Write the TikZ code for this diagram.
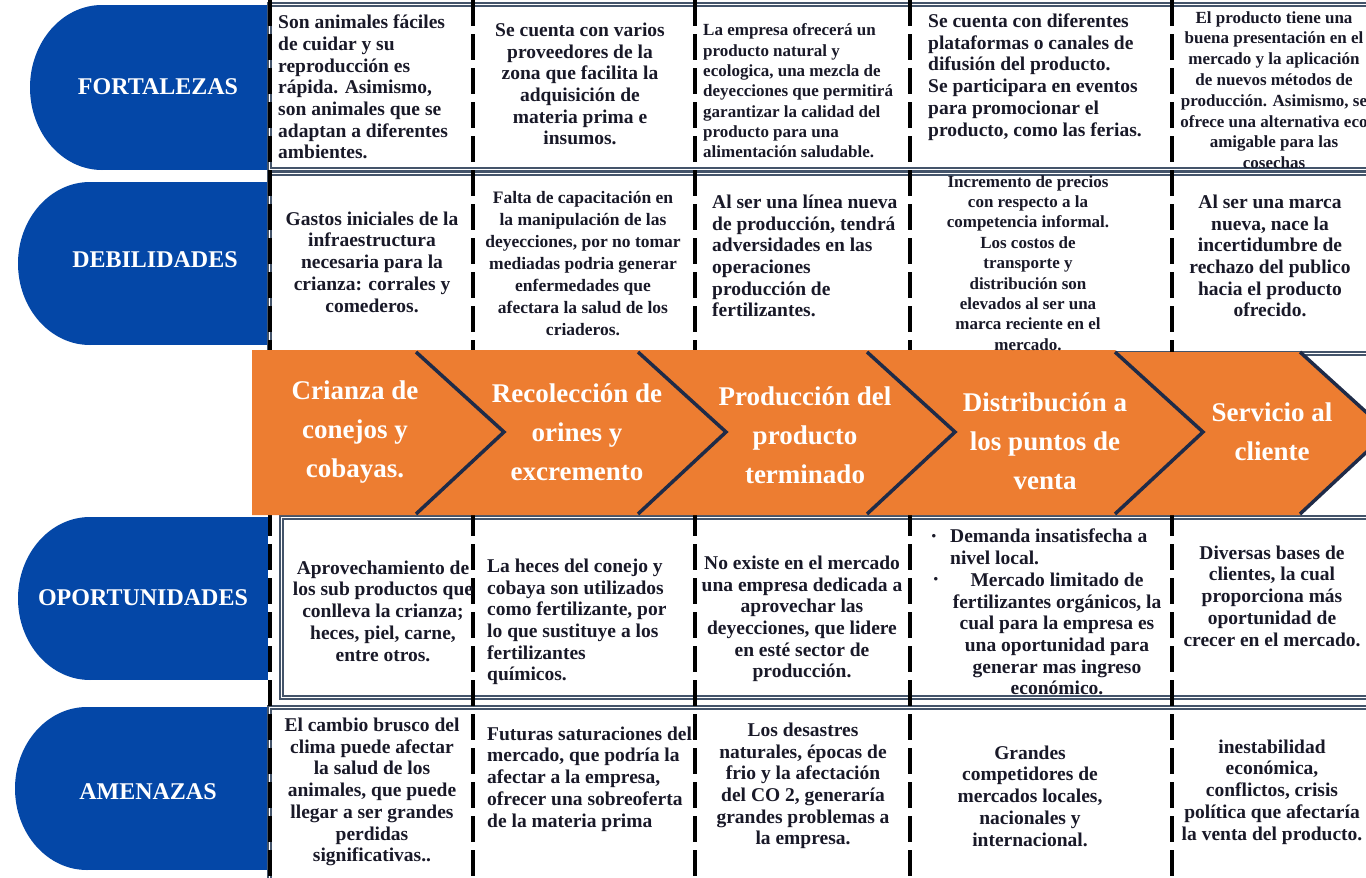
\documentclass[tikz,border=0pt]{standalone}
\usepackage{fontspec}
\setmainfont{Liberation Serif}
\definecolor{tabblue}{RGB}{4,71,167}
\definecolor{chevorange}{RGB}{237,125,49}
\definecolor{chevnavy}{RGB}{31,43,72}
\definecolor{framegray}{RGB}{68,84,106}
\definecolor{ink}{RGB}{25,25,40}
\tikzset{
  fs/.style 2 args={font=\fontsize{#1}{#2}\selectfont\bfseries},
  cell/.style={text=ink, fs={19.5}{21.7}, inner sep=0pt, align=center},
  lcell/.style={cell, align=left, anchor=west},
  tablabel/.style={text=white, fs={24}{28}, inner sep=0pt},
  chevtext/.style={text=white, fs={27}{39}, inner sep=0pt, align=center},
  rowframe/.style={draw=framegray, line width=1.1pt},
  sepline/.style={black, line width=4pt, dash pattern=on 26pt off 8pt},
  chevedge/.style={chevnavy, line width=3.5pt, line join=miter}
}
\begin{document}
\begin{tikzpicture}[x=1pt,y=-1pt]
  \useasboundingbox (0,0) rectangle (1366,878);
  \clip (0,0) rectangle (1366,878);

  % blue tabs on the left
  \foreach \t/\b/\l in {5/170/30, 182/345/18, 517/680/18, 707/870/15} {
    \pgfmathsetmacro\m{(\t+\b)/2}
    \pgfmathsetmacro\r{(\b-\t)/2}
    \fill[tabblue] (\l+72,\t) rectangle (268,\b);
    \fill[tabblue] (\l+72,\m) ellipse [x radius=72, y radius=\r];
  }
  \node[tablabel] (fortalezas) at (158,87) {FORTALEZAS};
  \node[tablabel] (debilidades) at (155,260) {DEBILIDADES};
  \node[tablabel] (oportunidades) at (143,598) {OPORTUNIDADES};
  \node[tablabel] (amenazas) at (148,792) {AMENAZAS};

  % rows (double frames) and column separators
  \foreach \l/\t/\b in {268/3/171, 268/172/355, 280/516/699, 268/706/890} {
    \draw[rowframe] (\l,\t) rectangle (1390,\b);
    \draw[rowframe] (\l+3,\t+3) rectangle (1390,\b-3);
  }
  \foreach \x in {270,473,695,910,1172}
    \draw[sepline] (\x,0) -- (\x,878);

  % chevrons
  \fill[chevorange] (252,350) -- (416,350) -- (504,432) -- (416,515) -- (252,515) -- cycle;
  \fill[chevorange] (416,350) -- (638,350) -- (726,432) -- (638,515) -- (416,515) -- (504,432) -- cycle;
  \fill[chevorange] (638,350) -- (867,350) -- (955,432) -- (867,515) -- (638,515) -- (726,432) -- cycle;
  \fill[chevorange] (867,350) -- (1115,350) -- (1203,432) -- (1115,515) -- (867,515) -- (955,432) -- cycle;
  \fill[chevorange] (1115,352) -- (1300,352) -- (1388,432) -- (1300,515) -- (1115,515) -- (1203,432) -- cycle;
  \foreach \a/\b in {416/504, 638/726, 867/955, 1115/1203, 1300/1388}
    \draw[chevedge] (\a,352) -- (\b,432) -- (\a,514);
  \node[chevtext] (c1) at (355,432) {Crianza de\\conejos y\\cobayas.};
  \node[chevtext] (c2) at (577,432) {Recolección de\\orines y\\excremento};
  \node[chevtext] (c3) at (805,435) {Producción del\\producto\\terminado};
  \node[chevtext] (c4) at (1045,441) {Distribución a\\los puntos de\\venta};
  \node[chevtext] (c5) at (1272,432) {Servicio al\\cliente};

  % fortalezas
  \node[lcell] (f1) at (278,87) {Son animales fáciles\\de cuidar  y su\\reproducción es\\rápida.  Asimismo,\\son animales que se\\adaptan a diferentes\\ambientes.};
  \node[cell] (f2) at (580,84) {Se cuenta con varios\\proveedores de la\\zona que facilita la\\adquisición de\\materia prima e\\insumos.};
  \node[lcell, fs={17}{20.3}] (f3) at (703,91) {La empresa ofrecerá un\\producto natural y\\ecologica, una mezcla de\\deyecciones que permitirá\\garantizar la calidad del\\producto para una\\alimentación saludable.};
  \node[lcell] (f4) at (928,77) {Se cuenta con diferentes\\plataformas o canales de\\difusión del producto.\\Se participara en eventos\\para promocionar el\\producto, como las ferias.};
  \node[cell, fs={17}{20.8}] (f5) at (1274,90) {El producto tiene una\\buena presentación en el\\mercado y la aplicación\\de nuevos métodos de\\producción. Asimismo, se\\ofrece una alternativa eco\\amigable para las\\cosechas};

  % debilidades
  \node[cell] (d1) at (372,262) {Gastos iniciales de la\\infraestructura\\necesaria para la\\crianza: corrales y\\comederos.};
  \node[cell, fs={17.5}{22}] (d2) at (583,264) {Falta de capacitación en\\la manipulación de las\\deyecciones, por no tomar\\mediadas podria generar\\enfermedades que\\afectara la salud de los\\criaderos.};
  \node[lcell] (d3) at (712,256) {Al ser una línea nueva\\de producción, tendrá\\adversidades en las\\operaciones\\producción de\\fertilizantes.};
  \node[cell, fs={17}{20.4}] (d4) at (1028,263) {Incremento de precios\\con respecto a la\\competencia informal.\\Los costos de\\transporte y\\distribución son\\elevados al ser una\\marca reciente en el\\mercado.};
  \node[cell] (d5) at (1270,256) {Al ser una marca\\nueva, nace la\\incertidumbre de\\rechazo del publico\\hacia el producto\\ofrecido.};

  % oportunidades
  \node[cell] (o1) at (383,611) {Aprovechamiento de\\los sub productos que\\conlleva la crianza;\\heces, piel, carne,\\entre otros.};
  \node[lcell] (o2) at (487,622) {La heces del conejo y\\cobaya son utilizados\\como fertilizante, por\\lo que sustituye a los\\fertilizantes\\químicos.};
  \node[cell] (o3) at (802,619) {No existe en el mercado\\una empresa dedicada a\\aprovechar las\\deyecciones, que lidere\\en esté sector de\\producción.};
  \node[cell, fs={13}{15}] (o4a) at (934,537) {•};
  \node[lcell] (o4) at (950,547) {Demanda insatisfecha a\\nivel local.};
  \node[cell, fs={13}{15}] (o4b) at (936,580) {•};
  \node[cell] (o4c) at (1057,634) {Mercado limitado de\\fertilizantes orgánicos, la\\cual para la empresa es\\una oportunidad para\\generar mas ingreso\\económico.};
  \node[cell] (o5) at (1272,596) {Diversas bases de\\clientes, la cual\\proporciona más\\oportunidad de\\crecer en el mercado.};

  % amenazas
  \node[cell] (a1) at (372,792) {El cambio brusco del\\clima puede afectar\\la salud de los\\animales, que puede\\llegar a ser grandes\\perdidas\\significativas..};
  \node[lcell] (a2) at (487,779) {Futuras saturaciones del\\mercado, que podría la\\afectar a la empresa,\\ofrecer una sobreoferta\\de la materia prima};
  \node[cell] (a3) at (803,786) {Los desastres\\naturales, épocas de\\frio y la afectación\\del CO 2, generaría\\grandes problemas a\\la empresa.};
  \node[cell] (a4) at (1030,796) {Grandes\\competidores de\\mercados locales,\\nacionales y\\internacional.};
  \node[cell] (a5) at (1272,792) {inestabilidad\\económica,\\conflictos, crisis\\política que afectaría\\la venta del producto.};
\end{tikzpicture}
\end{document}
